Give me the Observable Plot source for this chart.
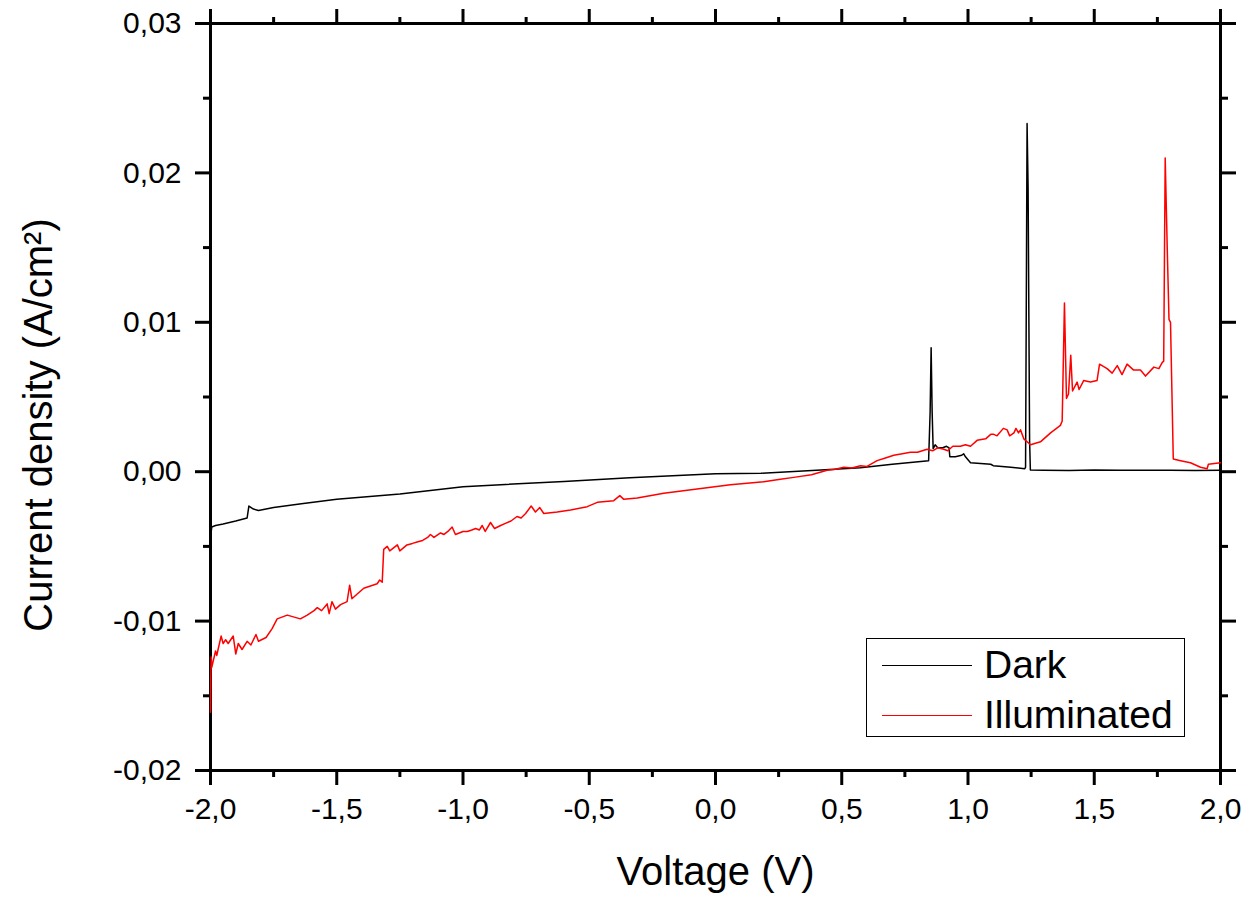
<!DOCTYPE html>
<html>
<head>
<meta charset="utf-8">
<script src="https://cdn.jsdelivr.net/npm/d3@7"></script>
<script src="https://cdn.jsdelivr.net/npm/@observablehq/plot@0.6"></script>
<style>
  body { margin: 0; background: #fff; }
  #wrap { position: relative; width: 1250px; height: 898px; font-family: "Liberation Sans", Arial, sans-serif; }
  #legend { position: absolute; left: 866px; top: 638px; width: 317px; height: 97px; border: 1.5px solid #000; background: #fff; }
  .row { position: absolute; left: 0; height: 44px; display: flex; align-items: center; }
  .sw { width: 90px; height: 0; margin-left: 15px; margin-right: 12px; }
  .lab { font-size: 39px; color: #000; line-height: 44px; }
</style>
</head>
<body>
<div id="wrap"></div>
<script>
// ---- data ----
const darkV = [-2.000,-1.995,-1.98,-1.95,-1.90,-1.855,-1.848,-1.83,-1.81,-1.75,
  -1.64,-1.50,-1.25,-1.00,-0.85,-0.60,-0.34,0.00,0.18,0.40,
  0.574,0.70,0.844,0.850,0.854,0.858,0.862,0.87,0.88,0.90,
  0.915,0.925,0.928,0.95,0.975,0.983,0.99,1.01,1.05,1.09,
  1.10,1.17,1.225,1.228,1.234,1.238,1.244,1.247,1.30,1.40,
  1.50,1.60,1.70,1.80,1.90,2.00];
const darkJ = [-0.0044,-0.0037,-0.0036,-0.0035,-0.0033,-0.0031,-0.0023,-0.0025,-0.0026,-0.0024,
  -0.00215,-0.00185,-0.0015,-0.0010,-0.00087,-0.00065,-0.0004,-0.00013,-0.0001,0.0001,
  0.00027,0.0005,0.00073,0.0040,0.0083,0.0040,0.00154,0.0018,0.0016,0.0016,
  0.0017,0.0016,0.0010,0.0010,0.0011,0.0012,0.0010,0.0006,0.00055,0.0005,
  0.0004,0.0003,0.0002,0.0003,0.0233,0.0190,0.0020,0.00012,0.0001,0.00008,
  0.00012,0.0001,0.00009,0.0001,0.00008,0.0001];

const illumV = [-2.000,-1.999,-1.997,-1.995,-1.98,-1.975,-1.97,-1.958,-1.95,-1.94,
  -1.93,-1.92,-1.91,-1.90,-1.89,-1.875,-1.855,-1.84,-1.82,-1.81,
  -1.78,-1.756,-1.736,-1.696,-1.644,-1.617,-1.59,-1.577,-1.56,-1.538,
  -1.53,-1.519,-1.505,-1.485,-1.459,-1.449,-1.44,-1.42,-1.393,-1.34,
  -1.33,-1.32,-1.314,-1.30,-1.29,-1.26,-1.25,-1.222,-1.20,-1.182,
  -1.16,-1.15,-1.14,-1.129,-1.115,-1.089,-1.075,-1.06,-1.043,-1.03,
  -1.00,-0.983,-0.965,-0.95,-0.935,-0.924,-0.912,-0.891,-0.875,-0.851,
  -0.832,-0.81,-0.786,-0.77,-0.752,-0.73,-0.713,-0.696,-0.68,-0.627,
  -0.574,-0.508,-0.468,-0.403,-0.379,-0.363,-0.31,-0.205,-0.073,0.059,
  0.191,0.257,0.31,0.38,0.442,0.47,0.508,0.54,0.574,0.60,
  0.64,0.67,0.706,0.74,0.772,0.80,0.838,0.86,0.88,0.904,
  0.92,0.94,0.97,0.99,1.01,1.036,1.07,1.09,1.102,1.115,
  1.14,1.155,1.165,1.182,1.19,1.20,1.208,1.221,1.248,1.287,
  1.327,1.366,1.373,1.382,1.390,1.398,1.407,1.414,1.432,1.44,
  1.458,1.485,1.511,1.521,1.551,1.571,1.591,1.61,1.63,1.656,
  1.683,1.703,1.736,1.756,1.769,1.775,1.781,1.789,1.796,1.802,
  1.813,1.842,1.881,1.921,1.947,1.952,2.000];
const illumJ = [-0.0161,-0.0138,-0.0124,-0.0131,-0.0120,-0.0123,-0.0119,-0.0110,-0.0115,-0.01125,
  -0.0115,-0.01125,-0.0110,-0.0122,-0.0115,-0.0119,-0.01135,-0.0116,-0.0109,-0.01135,
  -0.0111,-0.0105,-0.00985,-0.0096,-0.00985,-0.0096,-0.0093,-0.0091,-0.0093,-0.00885,
  -0.0095,-0.0087,-0.0092,-0.0089,-0.0087,-0.0076,-0.0085,-0.0082,-0.0078,-0.0075,
  -0.00725,-0.0074,-0.0052,-0.0050,-0.0053,-0.0049,-0.0053,-0.0049,-0.0048,-0.0047,
  -0.0046,-0.0045,-0.0044,-0.0042,-0.0044,-0.0041,-0.0042,-0.0040,-0.0037,-0.0042,
  -0.0040,-0.0040,-0.0039,-0.0038,-0.0039,-0.0036,-0.0040,-0.0034,-0.0038,-0.0036,
  -0.00346,-0.0033,-0.0030,-0.0031,-0.0028,-0.0023,-0.0027,-0.0024,-0.0028,-0.0027,
  -0.00256,-0.00234,-0.00205,-0.00194,-0.0016,-0.00185,-0.00176,-0.00145,-0.00116,-0.00087,
  -0.00067,-0.0005,-0.00038,-0.0002,0.0001,0.00015,0.0003,0.00025,0.0004,0.00035,
  0.00074,0.0009,0.0011,0.0012,0.0013,0.0013,0.0015,0.0014,0.0016,0.0015,
  0.0014,0.0017,0.0017,0.0018,0.0017,0.0021,0.0022,0.0025,0.0025,0.0024,
  0.0029,0.0028,0.0024,0.0026,0.0029,0.0026,0.0028,0.0022,0.0018,0.0020,
  0.0026,0.0031,0.0034,0.0113,0.0049,0.0052,0.0078,0.0054,0.0060,0.0055,
  0.0061,0.0060,0.0061,0.0072,0.0069,0.0066,0.0071,0.0065,0.0072,0.0068,
  0.0068,0.0064,0.0070,0.0069,0.0073,0.0074,0.0210,0.0150,0.0102,0.0100,
  0.00085,0.00074,0.0006,0.0003,0.0002,0.0005,0.0006];

const xMajor = [-2,-1.5,-1,-0.5,0,0.5,1,1.5,2];
const xMinor = [-1.75,-1.25,-0.75,-0.25,0.25,0.75,1.25,1.75];
const yMajor = [-0.02,-0.01,0,0.01,0.02,0.03];
const yMinor = [-0.015,-0.005,0.005,0.015,0.025];
const seriesNames = ["Dark", "Illuminated"];
const seriesColors = ["#000000", "#ff0000"];
const xTitle = ["Voltage (V)"];
const yTitle = ["Current density (A/cm²)"];

const nD = Math.min(darkV.length, darkJ.length);
const nI = Math.min(illumV.length, illumJ.length);
const dark = darkV.slice(0, nD).map((v, i) => ({v, j: darkJ[i]}));
const illum = illumV.slice(0, nI).map((v, i) => ({v, j: illumJ[i]}));
const fx = d => d3.format(".1f")(d).replace(".", ",").replace("−", "-");
const fy = d => d3.format(".2f")(d).replace(".", ",").replace("−", "-");

const chart = Plot.plot({
  width: 1250,
  height: 898,
  marginLeft: 210,
  marginRight: 30,
  marginTop: 23,
  marginBottom: 128,
  style: {fontFamily: '"Liberation Sans", Arial, sans-serif', background: "#fff", color: "#000"},
  x: {domain: [-2, 2]},
  y: {domain: [-0.02, 0.03]},
  marks: [
    Plot.axisX({ticks: xMajor, tickSize: 15, tickPadding: 12, tickFormat: fx, fontSize: 30, strokeWidth: 3, label: null}),
    Plot.axisX({ticks: xMinor, tickSize: 7, text: null, strokeWidth: 3, label: null}),
    Plot.axisX({anchor: "top", ticks: xMajor, tickSize: 15, text: null, strokeWidth: 3, label: null}),
    Plot.axisX({anchor: "top", ticks: xMinor, tickSize: 7, text: null, strokeWidth: 3, label: null}),
    Plot.axisY({ticks: yMajor, tickSize: 15, tickPadding: 14, tickFormat: fy, fontSize: 30, strokeWidth: 3, label: null}),
    Plot.axisY({ticks: yMinor, tickSize: 7, text: null, strokeWidth: 3, label: null}),
    Plot.axisY({anchor: "right", ticks: yMajor, tickSize: 15, text: null, strokeWidth: 3, label: null}),
    Plot.axisY({anchor: "right", ticks: yMinor, tickSize: 7, text: null, strokeWidth: 3, label: null}),
    Plot.frame({stroke: "#000", strokeWidth: 3}),
    Plot.line(dark, {x: "v", y: "j", stroke: seriesColors[0], strokeWidth: 1.5}),
    Plot.line(illum, {x: "v", y: "j", stroke: seriesColors[1], strokeWidth: 1.5}),
    Plot.text(xTitle, {frameAnchor: "bottom", dy: 114, fontSize: 40, fill: "#000", lineAnchor: "bottom"}),
    Plot.text(yTitle, {frameAnchor: "left", dx: -171, dy: 28, rotate: -90, textAnchor: "middle", fontSize: 40, fill: "#000"})
  ]
});

const wrap = document.getElementById("wrap");
wrap.appendChild(chart);

const legend = document.createElement("div");
legend.id = "legend";
seriesNames.forEach((name, i) => {
  const row = document.createElement("div");
  row.className = "row";
  row.style.top = (i === 0 ? 4 : 54) + "px";
  const sw = document.createElement("span");
  sw.className = "sw";
  sw.style.borderTop = "1.5px solid " + seriesColors[i];
  const lab = document.createElement("span");
  lab.className = "lab";
  lab.textContent = name;
  row.appendChild(sw);
  row.appendChild(lab);
  legend.appendChild(row);
});
wrap.appendChild(legend);
</script>
</body>
</html>
